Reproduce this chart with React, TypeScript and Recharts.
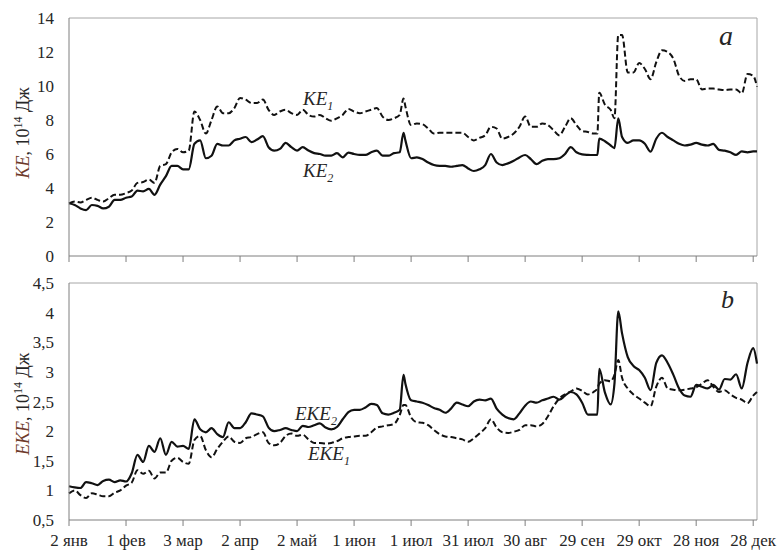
import React from 'react';
import { LineChart, Line, XAxis, YAxis, ReferenceLine } from 'recharts';

// day index from 2 Jan
const days = [
  0, 3, 6, 9, 12, 15, 18, 21, 24, 27,
  30, 33, 36, 39, 42, 45, 48, 51, 54, 57,
  60, 63, 66, 69, 72, 75, 78, 81, 84, 87,
  90, 93, 96, 99, 102, 105, 108, 111, 114, 117,
  120, 123, 126, 129, 132, 135, 138, 141, 144, 147,
  150, 153, 156, 159, 162, 165, 168, 171, 174,
  176, 177, 180, 183, 186, 189, 192, 195, 198, 201,
  204, 207, 210, 213, 216, 219, 222, 225, 228, 231,
  234, 237, 240, 243, 246, 249, 252, 255, 258, 261,
  264, 267, 270, 273, 276, 278, 279, 282, 285, 287,
  289, 291, 294, 297, 300, 303, 306, 309, 312, 315,
  318, 321, 324, 327, 330, 333, 336, 339, 342, 345,
  348, 351, 354, 357, 360, 362,
];

const ke1 = [
  3.1, 3.2, 3.15, 3.3, 3.43, 3.3, 3.2, 3.4, 3.6, 3.6,
  3.7, 3.85, 4.3, 4.35, 4.5, 4.3, 5.3, 5.4, 6.1, 6.3,
  6.1, 6.2, 8.5, 8.0, 7.2, 8.0, 8.8, 8.4, 8.4, 8.7,
  9.3, 9.2, 9.0, 9.0, 9.2, 8.6, 8.3, 8.5, 8.6, 8.4,
  8.3, 8.6, 8.3, 8.2, 8.3, 8.1, 7.95, 8.1, 8.3, 8.65,
  8.5, 8.4, 8.5, 8.6, 8.7, 8.2, 8.0, 8.1, 8.3,
  9.27, 8.8, 7.7, 7.8, 7.75, 7.5, 7.2, 7.25, 7.25, 7.25,
  7.25, 7.25, 7.0, 6.8, 6.95, 7.1, 7.6, 7.5, 6.9, 7.0,
  7.2, 7.6, 8.2, 7.6, 7.6, 7.8, 7.7, 7.4, 7.1, 7.6,
  8.1, 7.7, 7.35, 7.3, 7.2, 7.2, 9.6, 8.9, 8.6, 8.1,
  13.0, 13.0, 10.8, 10.8, 11.35, 11.0, 10.4, 11.4, 12.1, 12.0,
  11.6, 10.6, 10.3, 10.4, 10.4, 9.8, 9.85, 9.85, 9.8, 9.76,
  9.8, 9.8, 9.57, 10.7, 10.6, 9.96,
];

const ke2 = [
  3.1, 3.0, 2.8, 2.7, 3.0, 2.95, 2.8, 2.9, 3.3, 3.3,
  3.43, 3.5, 3.85, 3.8, 3.95, 3.6, 4.2, 4.7, 5.3, 5.3,
  5.1, 5.1, 6.6, 6.8, 5.75, 5.9, 6.6, 6.5, 6.5, 6.8,
  6.9, 7.0, 6.7, 6.85, 7.05, 6.4, 6.2, 6.3, 6.65, 6.4,
  6.2, 6.4, 6.2, 6.05, 6.0, 5.9, 5.9, 6.05, 5.8, 6.08,
  6.0, 5.95, 5.95, 6.1, 6.2, 5.9, 5.9, 6.05, 6.1,
  7.25, 6.8, 5.75, 5.8, 5.7, 5.5, 5.35, 5.3, 5.3, 5.25,
  5.3, 5.35, 5.15, 5.0, 5.1, 5.35, 6.0, 5.5, 5.35, 5.45,
  5.6, 5.8, 5.94, 5.7, 5.4, 5.6, 5.7, 5.7, 5.75, 6.0,
  6.4, 6.1, 5.98, 5.95, 5.94, 5.94, 6.9, 6.75, 6.5, 6.35,
  8.1, 7.0, 6.65, 6.8, 6.8, 6.6, 6.14, 6.9, 7.25, 7.0,
  6.8, 6.6, 6.5, 6.55, 6.65, 6.55, 6.5, 6.6, 6.24, 6.2,
  6.1, 5.95, 6.15, 6.1, 6.15, 6.15,
];

const eke1 = [
  0.95, 1.0, 0.92, 0.87, 0.95, 0.93, 0.9, 0.9, 0.96, 1.0,
  1.08, 1.13, 1.34, 1.28, 1.33, 1.2, 1.3, 1.3, 1.5, 1.55,
  1.48, 1.45, 1.85, 1.92, 1.68, 1.56, 1.7, 1.82, 1.91, 1.82,
  1.8, 1.88, 1.9, 1.95, 1.98, 1.8, 1.76, 1.8, 1.92, 1.96,
  1.92, 1.94, 1.86, 1.8, 1.8, 1.79, 1.8, 1.83, 1.88, 1.9,
  1.91, 1.92, 1.92, 1.98, 2.06, 2.08, 2.1, 2.12, 2.27,
  2.44, 2.44, 2.23, 2.15, 2.14, 2.1, 2.02, 1.95, 1.91, 1.9,
  1.88, 1.86, 1.82, 1.88, 1.96, 2.05, 2.2, 2.06, 1.98, 1.97,
  1.99, 2.02, 2.1, 2.1, 2.08, 2.12, 2.25, 2.42, 2.55, 2.62,
  2.67, 2.72, 2.68, 2.62, 2.66, 2.72, 2.8, 2.86, 2.84, 2.95,
  3.2, 2.9, 2.72, 2.62, 2.55, 2.48, 2.42, 2.75, 2.9, 2.72,
  2.7, 2.69, 2.7, 2.72, 2.74, 2.8, 2.86, 2.75, 2.66, 2.69,
  2.62, 2.56, 2.53, 2.47, 2.6, 2.66,
];

const eke2 = [
  1.07, 1.05, 1.04, 1.14, 1.12, 1.09, 1.16, 1.18, 1.14, 1.17,
  1.15, 1.29, 1.6, 1.48, 1.75, 1.65, 1.88, 1.6, 1.82, 1.74,
  1.75, 1.7, 2.2, 2.03, 1.98, 2.05, 1.95, 1.9, 2.15, 2.05,
  2.05, 2.15, 2.3, 2.28, 2.25, 2.06, 2.0, 2.02, 2.05, 2.02,
  2.0, 2.09, 2.07, 2.1, 2.13, 2.06, 2.03, 2.07, 2.2, 2.32,
  2.36, 2.36, 2.4, 2.46, 2.44, 2.3, 2.28, 2.31, 2.36,
  2.95, 2.8, 2.52, 2.5, 2.48, 2.44, 2.39, 2.36, 2.31, 2.38,
  2.48, 2.45, 2.42, 2.5, 2.53, 2.52, 2.55, 2.38, 2.28, 2.22,
  2.2, 2.3, 2.43, 2.5, 2.48, 2.52, 2.55, 2.58, 2.53, 2.6,
  2.66, 2.62, 2.48, 2.28, 2.28, 2.28, 3.05, 2.65, 2.45, 2.8,
  4.02, 3.65, 3.25, 3.1, 3.03, 2.9, 2.69, 3.15, 3.28, 3.15,
  2.95, 2.72, 2.6, 2.58, 2.78, 2.75, 2.72, 2.78, 2.7, 2.88,
  2.87, 2.96, 2.72, 3.15, 3.4, 3.14,
];

const monthTicks = [0, 30, 60, 90, 120, 150, 180, 210, 240, 270, 300, 330, 360];
const monthLabels = ['2 янв', '1 фев', '3 мар', '2 апр', '2 май', '1 июн', '1 июл', '31 июл', '30 авг', '29 сен', '29 окт', '28 ноя', '28 дек'];
const keTicks = [0, 2, 4, 6, 8, 10, 12, 14];
const ekeTicks = [0.5, 1, 1.5, 2, 2.5, 3, 3.5, 4, 4.5];

const FONT = "'Liberation Serif', 'DejaVu Serif', serif";
const AXIS = '#7f7f7f';
const FRAME = '#a6a6a6';
const TEXT = '#262626';

export default function App() {
  const keData = days.map((d, i) => ({ day: d, ke1: ke1[i], ke2: ke2[i] }));
  const ekeData = days.map((d, i) => ({ day: d, eke1: eke1[i], eke2: eke2[i] }));
  const monthLabel = (v: number) => monthLabels[monthTicks.indexOf(v)] ?? '';
  const comma = (v: number) => String(v).replace('.', ',');
  const tickStyle = { fill: TEXT, fontSize: 17 };

  return (
    <div style={{ position: 'absolute', left: 0, top: 0, width: 777, height: 551, background: '#fff', fontFamily: FONT, overflow: 'hidden' }}>
      <style>{`svg text, svg tspan { font-family: ${FONT} !important; }`}</style>
      <div style={{ position: 'absolute', left: 0, top: 0 }}>
        <LineChart width={777} height={270} data={keData} margin={{ top: 18, right: 20, bottom: 0, left: 29 }}>
          <XAxis dataKey="day" type="number" domain={[0, 362]} ticks={monthTicks} interval={0}
            tickFormatter={() => ''} height={14} tickSize={6} stroke={AXIS} />
          <YAxis domain={[0, 14]} ticks={keTicks} width={40} tickLine={false} tickSize={0} tickMargin={15}
            stroke={AXIS} tick={tickStyle} />
          <ReferenceLine y={14} stroke={FRAME} />
          <ReferenceLine x={362} stroke={FRAME} />
          <Line type="monotone" dataKey="ke1" stroke="#111" strokeWidth={2} strokeDasharray="6 3" dot={false} isAnimationActive={false} />
          <Line type="monotone" dataKey="ke2" stroke="#111" strokeWidth={2.2} dot={false} isAnimationActive={false} />
        </LineChart>
      </div>
      <div style={{ position: 'absolute', left: 0, top: 265 }}>
        <LineChart width={777} height={286} data={ekeData} margin={{ top: 18, right: 20, bottom: 0, left: 29 }}>
          <XAxis dataKey="day" type="number" domain={[0, 362]} ticks={monthTicks} interval={0}
            tickFormatter={monthLabel} height={31} tickSize={6} tickMargin={8} stroke={AXIS} tick={tickStyle} />
          <YAxis domain={[0.5, 4.5]} ticks={ekeTicks} width={40} tickLine={false} tickSize={0} tickMargin={15}
            stroke={AXIS} tick={tickStyle} tickFormatter={comma} />
          <ReferenceLine y={4.5} stroke={FRAME} />
          <ReferenceLine x={362} stroke={FRAME} />
          <Line type="monotone" dataKey="eke1" stroke="#111" strokeWidth={2} strokeDasharray="6 3" dot={false} isAnimationActive={false} />
          <Line type="monotone" dataKey="eke2" stroke="#111" strokeWidth={2.2} dot={false} isAnimationActive={false} />
        </LineChart>
      </div>
      <svg width={777} height={551} style={{ position: 'absolute', left: 0, top: 0, pointerEvents: 'none' }} fill={TEXT}>
        <text transform="translate(29,133) rotate(-90)" textAnchor="middle" fontSize={18}>
          <tspan fontStyle="italic" fill="#6e3a2b">KE</tspan>
          <tspan>, 10</tspan>
          <tspan dy={-7} fontSize={12}>14</tspan>
          <tspan dy={7}> Дж</tspan>
        </text>
        <text transform="translate(29,404) rotate(-90)" textAnchor="middle" fontSize={18}>
          <tspan fontStyle="italic" fill="#6e3a2b">EKE</tspan>
          <tspan>, 10</tspan>
          <tspan dy={-7} fontSize={12}>14</tspan>
          <tspan dy={7}> Дж</tspan>
        </text>
        <text x={303} y={105} fontSize={19} fontStyle="italic">
          KE<tspan dy={5} fontSize={12}>1</tspan>
        </text>
        <text x={303} y={177} fontSize={19} fontStyle="italic">
          KE<tspan dy={5} fontSize={12}>2</tspan>
        </text>
        <text x={295} y={420} fontSize={19} fontStyle="italic">
          EKE<tspan dy={5} fontSize={12}>2</tspan>
        </text>
        <text x={308} y={460} fontSize={19} fontStyle="italic">
          EKE<tspan dy={5} fontSize={12}>1</tspan>
        </text>
        <text x={719} y={45} fontSize={28} fontStyle="italic">a</text>
        <text x={721} y={308} fontSize={26} fontStyle="italic">b</text>
      </svg>
    </div>
  );
}
